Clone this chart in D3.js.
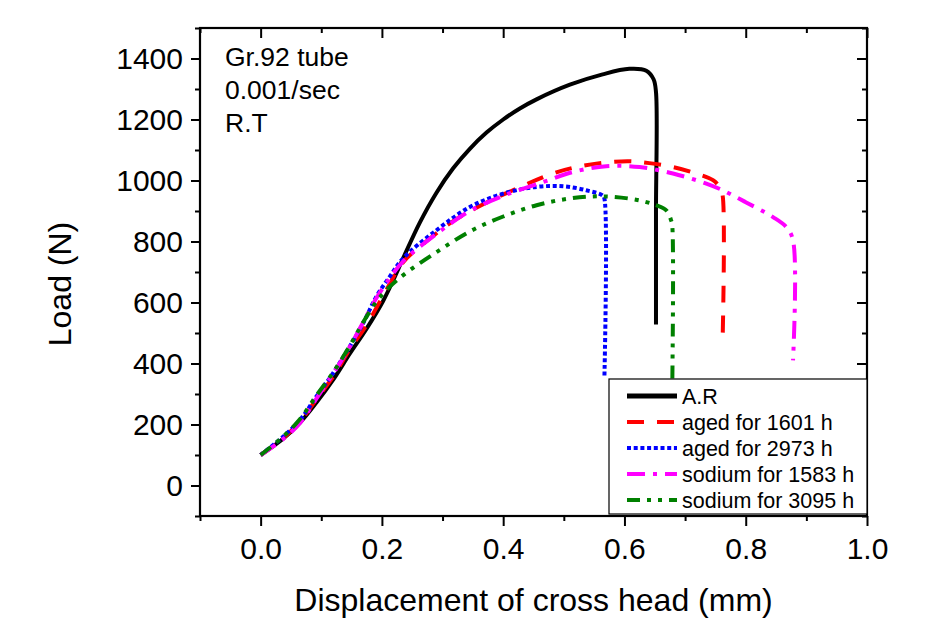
<!DOCTYPE html>
<html>
<head>
<meta charset="utf-8">
<script src="https://cdn.jsdelivr.net/npm/d3@7"></script>
<style>
  html, body { margin: 0; padding: 0; background: #fff; }
  svg { display: block; }
  text { font-family: "Liberation Sans", Arial, sans-serif; fill: #000; }
</style>
</head>
<body>
<svg id="chart" width="926" height="626"></svg>
<script>
// ---- data ----
const seriesNames = ["A.R", "aged for 1601 h", "aged for 2973 h", "sodium for 1583 h", "sodium for 3095 h"];

const arX = [0, 0.037, 0.065, 0.092, 0.12, 0.147, 0.175, 0.202, 0.221, 0.235, 0.2625, 0.29, 0.3175, 0.345, 0.3725, 0.40, 0.4275, 0.455, 0.51, 0.564, 0.608, 0.636, 0.648, 0.652, 0.652, 0.652];
const arY = [100, 153, 206, 272, 348, 432, 515, 605, 683, 745, 862, 960, 1040, 1104, 1157, 1200, 1236, 1266, 1314, 1348, 1366, 1360, 1332, 1290, 900, 528];

const aged1601X = [0, 0.037, 0.065, 0.092, 0.12, 0.147, 0.175, 0.202, 0.235, 0.273, 0.32, 0.37, 0.416, 0.482, 0.521, 0.565, 0.608, 0.641, 0.68, 0.713, 0.746, 0.758, 0.762, 0.762];
const aged1601Y = [100, 155, 210, 283, 358, 447, 527, 622, 732, 800, 870, 925, 968, 1023, 1044, 1058, 1063, 1057, 1044, 1026, 1001, 975, 950, 487];

const aged2973X = [0, 0.037, 0.065, 0.092, 0.12, 0.147, 0.169, 0.191, 0.213, 0.235, 0.29, 0.345, 0.40, 0.455, 0.499, 0.537, 0.564, 0.567, 0.567];
const aged2973Y = [100, 160, 215, 292, 370, 456, 532, 620, 685, 745, 837, 913, 957, 979, 981, 968, 951, 940, 360];

const sodium1583X = [0, 0.037, 0.065, 0.092, 0.12, 0.147, 0.169, 0.191, 0.213, 0.235, 0.29, 0.345, 0.40, 0.466, 0.515, 0.57, 0.625, 0.68, 0.735, 0.762, 0.80, 0.845, 0.867, 0.878, 0.878];
const sodium1583Y = [100, 152, 205, 285, 368, 455, 535, 615, 680, 735, 825, 900, 950, 995, 1028, 1047, 1044, 1023, 990, 968, 929, 880, 847, 804, 410];

const sodium3095X = [0, 0.037, 0.065, 0.092, 0.12, 0.147, 0.169, 0.191, 0.213, 0.24, 0.29, 0.345, 0.40, 0.455, 0.51, 0.564, 0.619, 0.652, 0.669, 0.677, 0.679, 0.679];
const sodium3095Y = [100, 160, 218, 295, 372, 458, 535, 603, 652, 697, 765, 833, 882, 919, 941, 948, 937, 919, 902, 869, 847, 351];

const xMajorTicks = [0.0, 0.2, 0.4, 0.6, 0.8, 1.0];
const xMinorTicks = [-0.1, 0.1, 0.3, 0.5, 0.7, 0.9];
const yMajorTicks = [0, 200, 400, 600, 800, 1000, 1200, 1400];
const yMinorTicks = [-100, 100, 300, 500, 700, 900, 1100, 1300, 1500];

const annotationLines = ["Gr.92 tube", "0.001/sec", "R.T"];

// ---- styling (kept separate from data) ----
const styles = [
  { color: "#000000", dash: null, width: 4 },
  { color: "#ff0000", dash: "17,13", width: 4 },
  { color: "#0000ff", dash: "4,2.7", width: 4 },
  { color: "#ff00ff", dash: "18,8,4,8", width: 4 },
  { color: "#008000", dash: "13,7,4,7,4,7", width: 4 }
];

const seriesData = [
  [arX, arY], [aged1601X, aged1601Y], [aged2973X, aged2973Y],
  [sodium1583X, sodium1583Y], [sodium3095X, sodium3095Y]
].map(([xs, ys]) => xs.map((x, i) => ({ x, y: ys[i] })));

// ---- chart ----
const svg = d3.select("#chart");
const L = 200, R = 867, T = 28, B = 516;

const x = d3.scaleLinear().domain([-0.1, 1.0]).range([L, R]);
const y = d3.scaleLinear().domain([-100, 1500]).range([B, T]);

const fmtX = d3.format(".1f");

function styleAxis(g) {
  g.select(".domain").remove();
  g.selectAll(".tick line").attr("stroke", "#000").attr("stroke-width", 2);
}

// bottom axis
const gB = svg.append("g").attr("transform", `translate(0,${B})`);
gB.call(d3.axisBottom(x).tickValues(xMajorTicks).tickSize(10).tickFormat(fmtX)).call(styleAxis);
gB.selectAll("text").attr("y", 43).attr("dy", 0).style("font-size", "30px");
svg.append("g").attr("transform", `translate(0,${B})`)
  .call(d3.axisBottom(x).tickValues(xMinorTicks).tickSize(5).tickFormat("")).call(styleAxis);

// top axis (inward)
svg.append("g").attr("transform", `translate(0,${T})`)
  .call(d3.axisTop(x).tickValues(xMajorTicks).tickSize(-10).tickFormat("")).call(styleAxis);
svg.append("g").attr("transform", `translate(0,${T})`)
  .call(d3.axisTop(x).tickValues(xMinorTicks).tickSize(-5).tickFormat("")).call(styleAxis);

// left axis
const gL = svg.append("g").attr("transform", `translate(${L},0)`);
gL.call(d3.axisLeft(y).tickValues(yMajorTicks).tickSize(9).tickPadding(8).tickFormat(d3.format("d"))).call(styleAxis);
gL.selectAll("text").attr("x", -17).attr("dy", "0.33em").style("font-size", "30px");
svg.append("g").attr("transform", `translate(${L},0)`)
  .call(d3.axisLeft(y).tickValues(yMinorTicks).tickSize(5).tickFormat("")).call(styleAxis);

// right axis (inward)
svg.append("g").attr("transform", `translate(${R},0)`)
  .call(d3.axisRight(y).tickValues(yMajorTicks).tickSize(-10).tickFormat("")).call(styleAxis);
svg.append("g").attr("transform", `translate(${R},0)`)
  .call(d3.axisRight(y).tickValues(yMinorTicks).tickSize(-5).tickFormat("")).call(styleAxis);

// frame
svg.append("rect")
  .attr("x", L).attr("y", T).attr("width", R - L).attr("height", B - T)
  .attr("fill", "none").attr("stroke", "#000").attr("stroke-width", 2.2);

// lines
const line = d3.line().x(d => x(d.x)).y(d => y(d.y)).curve(d3.curveCatmullRom.alpha(0.5));
seriesData.forEach((data, i) => {
  const s = styles[i];
  svg.append("path")
    .datum(data)
    .attr("d", line)
    .attr("fill", "none")
    .attr("stroke", s.color)
    .attr("stroke-width", s.width)
    .attr("stroke-dasharray", s.dash)
    .attr("stroke-linejoin", "round");
});

// annotation
svg.append("g").selectAll("text").data(annotationLines).join("text")
  .attr("x", 225).attr("y", (d, i) => 66 + i * 33)
  .style("font-size", "26.5px")
  .text(d => d);

// axis titles
svg.append("text")
  .attr("x", (L + R) / 2).attr("y", 611)
  .attr("text-anchor", "middle")
  .style("font-size", "32px")
  .text("Displacement of cross head (mm)");
svg.append("text")
  .attr("transform", "translate(71,284) rotate(-90)")
  .attr("text-anchor", "middle")
  .style("font-size", "32px")
  .text("Load (N)");

// legend
const lg = svg.append("g");
lg.append("rect")
  .attr("x", 609).attr("y", 379).attr("width", R - 609).attr("height", 514 - 379)
  .attr("fill", "#fff").attr("stroke", "#000").attr("stroke-width", 1.2);
seriesNames.forEach((name, i) => {
  const by = 403.5 + i * 26;
  const s = styles[i];
  lg.append("line")
    .attr("x1", 627).attr("x2", 677).attr("y1", by - 7.5).attr("y2", by - 7.5)
    .attr("stroke", s.color).attr("stroke-width", i === 0 ? 5 : 4)
    .attr("stroke-dasharray", s.dash);
  lg.append("text").attr("x", 682).attr("y", by)
    .style("font-size", "21.5px").text(name);
});
</script>
</body>
</html>
